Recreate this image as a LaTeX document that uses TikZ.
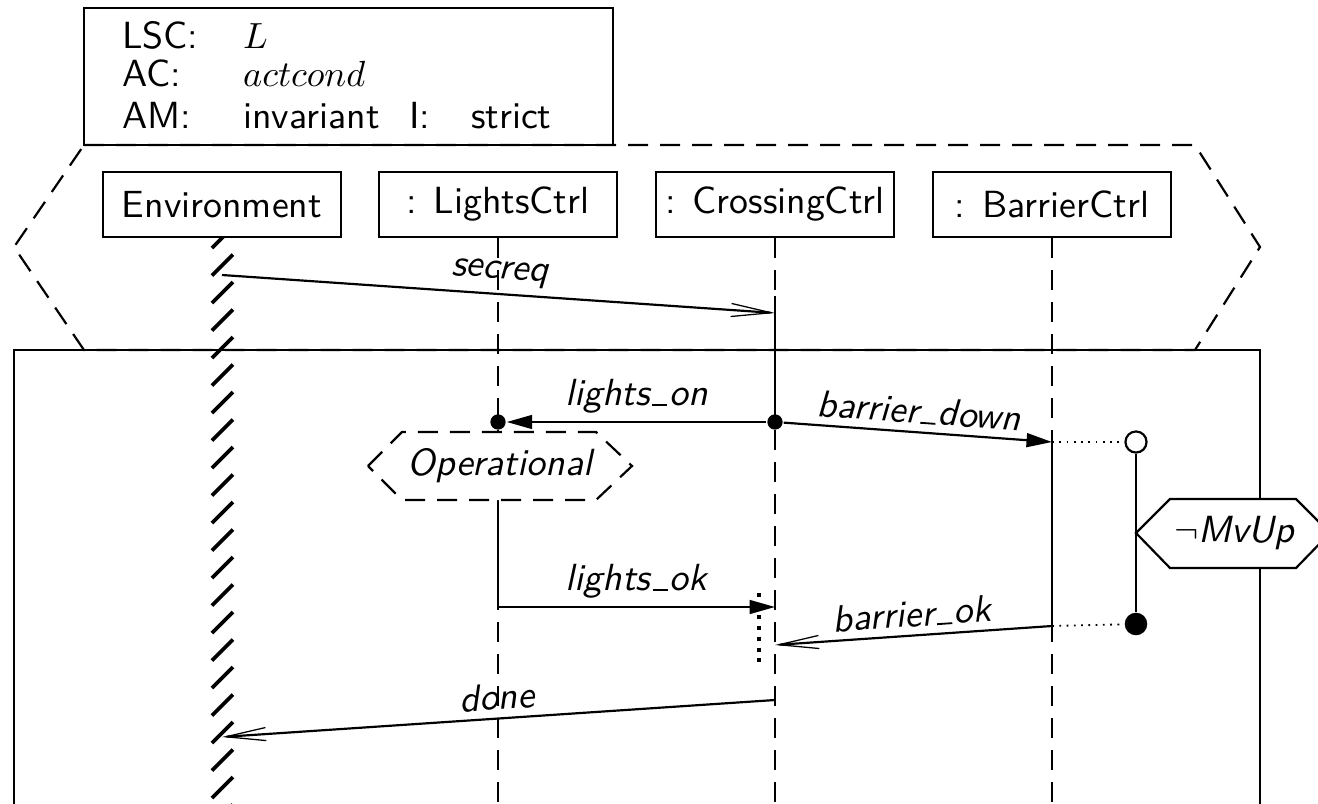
\documentclass[tikz,border=0pt]{standalone}
\usepackage{tikz}
\usetikzlibrary{arrows.meta, positioning, calc}
\renewcommand{\familydefault}{\sfdefault}
\newcommand{\usc}{\kern.06em\rule{0.4em}{0.5pt}\kern.06em}

\begin{document}
\fontsize{10.4pt}{12.5pt}\selectfont
\begin{tikzpicture}[x=0.275pt, y=-0.275pt, line width=0.6pt,
  inst/.style={draw, minimum width=65.5pt, minimum height=17.9pt, inner sep=0pt},
  life/.style={line width=0.8pt, dash pattern=on 5.5pt off 3.3pt},
  hotline/.style={line width=0.8pt},
  frameline/.style={dash pattern=on 5.5pt off 3.3pt},
  coldmsg/.style={-{Straight Barb[length=11pt, width=3.6pt, line width=0.35pt]}},
  hotmsg/.style={-{Triangle[length=7pt, width=3.8pt]}},
  lbl/.style={font=\itshape, inner sep=2pt},
  evdot/.style={circle, fill, inner sep=0pt, minimum size=4.2pt},
  condline/.style={line width=0.5pt, dash pattern=on 0.5pt off 1.5pt}]

  \useasboundingbox (0,0) rectangle (1318,804);

  % header
  \draw (84,8) rectangle (613,145);
  \node[anchor=base west, inner sep=0pt] (kLsc) at (121,48) {LSC:};
  \node[anchor=base west, inner sep=0pt] (vLsc) at (242,48) {$L$};
  \node[anchor=base west, inner sep=0pt] (kAc) at (121,86) {AC:};
  \node[anchor=base west, inner sep=0pt] (vAc) at (242,86) {$actcond$};
  \node[anchor=base west, inner sep=0pt] (kAm) at (121,128) {AM:};
  \node[anchor=base west, inner sep=0pt] (vAm) at (242,128) {invariant};
  \node[anchor=base west, inner sep=0pt] (kI) at (408,128) {I:};
  \node[anchor=base west, inner sep=0pt] (vI) at (470,128) {strict};

  % main chart and prechart
  \draw (14,804) -- (14,350) -- (1260,350) -- (1260,804);
  \draw[frameline] (84,145) -- (1195,145) -- (1260,247) -- (1195,350)
      -- (84,350) -- (14,247) -- cycle;

  % instances
  \node[inst] (env) at (222,204.5) {Environment};
  \node[inst] (lights) at (498,204.5) {: LightsCtrl};
  \node[inst] (cross) at (775,204.5) {: CrossingCtrl};
  \node[inst] (barrier) at (1052,204.5) {: BarrierCtrl};
  \coordinate (bot) at (0,804);

  % events on the lifelines
  \coordinate (sqA) at (env |- 0,275);
  \coordinate (sqB) at (cross |- 0,313);
  \coordinate (bdB) at (barrier |- 0,442);
  \coordinate (okA) at (lights |- 0,607);
  \coordinate (okB) at (cross |- 0,607);
  \coordinate (boA) at (barrier |- 0,626);
  \coordinate (boB) at (cross |- 0,645);
  \coordinate (dnA) at (cross |- 0,700);
  \coordinate (dnB) at (env |- 0,737);

  % lifelines
  \foreach \i in {lights, cross, barrier}
    \draw[life] (\i.south) -- (\i.south |- bot);
  \draw[hotline] (cross |- 0,296) -- (cross |- 0,422);
  \draw[hotline] (lights |- 0,500) -- (okA);
  \draw[hotline] (barrier |- 0,437) -- (boA);
  \begin{scope}
    \clip (190,237) rectangle (260,804);
    \foreach \k in {0,...,21}
      \draw[line width=1pt] (212,248+27.5*\k) -- (233,227+27.5*\k);
  \end{scope}

  % condition Operational
  \filldraw[fill=white, frameline] (368,466) -- (402,432) -- (596,432) -- (632,466)
      -- (596,500) -- (402,500) -- cycle;
  \node[lbl] (oper) at (500,466) {Operational};

  % messages
  \draw[coldmsg] (sqA) -- (sqB) node[lbl, midway, above, sloped] (lSecreq) {secreq};
  \node[evdot] (dOnA) at (cross |- 0,422) {};
  \node[evdot] (dOnB) at (lights |- 0,422) {};
  \draw[hotmsg] (dOnA) -- (dOnB) node[lbl, midway, above] (lOn) {lights\usc on};
  \draw[hotmsg] (dOnA) -- (bdB) node[lbl, midway, above, sloped] (lDown) {barrier\usc down};
  \draw[hotmsg] (okA) -- (okB) node[lbl, midway, above] (lOk) {lights\usc ok};
  \draw[coldmsg] (boA) -- (boB) node[lbl, midway, above, sloped] (lBok) {barrier\usc ok};
  \draw[coldmsg] (dnA) -- (dnB) node[lbl, midway, above, sloped] (lDone) {done};

  % coregion
  \coordinate (coTop) at (759,593);
  \coordinate (coBot) at (759,662);
  \draw[line width=1.1pt, dash pattern=on 1.1pt off 1.9pt] (coTop) -- (coBot);

  % condition MvUp over the barrier
  \node[draw, circle, fill=white, inner sep=0pt, minimum size=5.8pt] (cOpen) at (1136,442) {};
  \node[circle, fill, inner sep=0pt, minimum size=6.2pt] (cFull) at (1136,624) {};
  \draw (cOpen) -- (cFull);
  \draw[condline] (bdB) -- (cOpen);
  \draw[condline] (boA) -- (cFull);
  \filldraw[fill=white] (1136,533) -- (1170,499) -- (1296,499) -- (1330,533)
      -- (1296,568) -- (1170,568) -- cycle;
  \node (mvup) at (1235,533) {$\neg$\textit{MvUp}};
\end{tikzpicture}
\end{document}
